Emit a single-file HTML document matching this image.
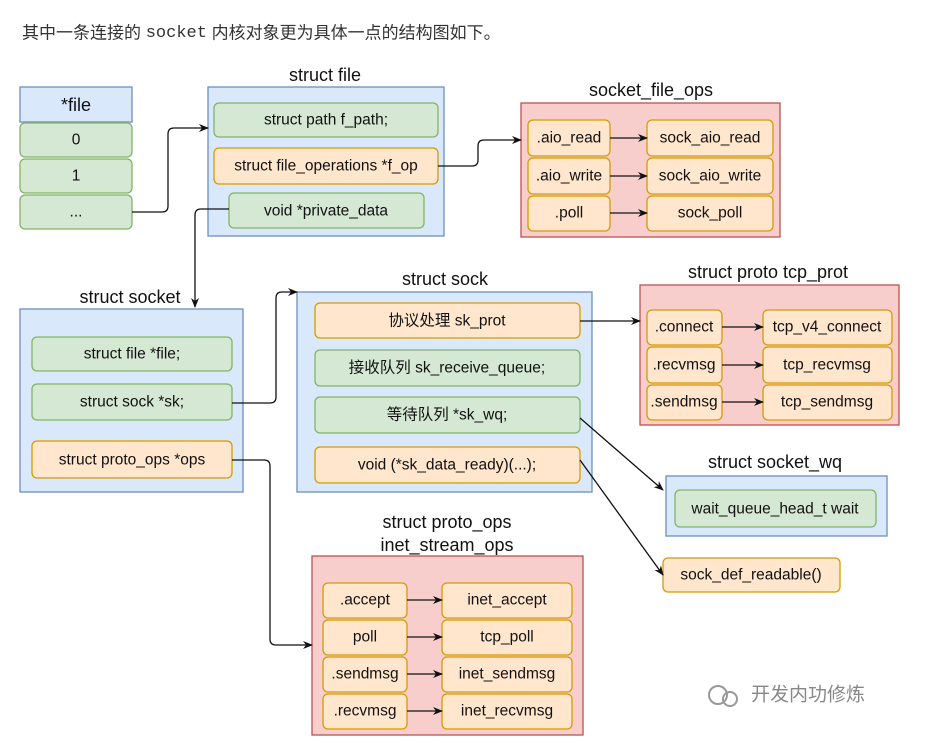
<!DOCTYPE html>
<html><head><meta charset="utf-8"><style>
body{margin:0;background:#fff;width:927px;height:746px;overflow:hidden}
svg text{font-family:"Liberation Sans","Noto Sans CJK SC",sans-serif;font-size:15.5px;fill:#111;text-anchor:middle;dominant-baseline:central}
.t{font-size:18px}
</style></head><body>
<svg width="927" height="746" xmlns="http://www.w3.org/2000/svg">
<defs><marker id="a" markerWidth="10" markerHeight="10" refX="9" refY="5" orient="auto" markerUnits="userSpaceOnUse"><path d="M0,1 L10,5 L0,9 L3,5z" fill="#111"/></marker></defs>
<text x="22" y="33" style="text-anchor:start;font-size:17px;fill:#333">其中一条连接的 <tspan font-family="Liberation Mono">socket</tspan> 内核对象更为具体一点的结构图如下。</text>
<g stroke-width="1.3">
<rect x="208" y="87" width="236" height="149" fill="#dae8fc" stroke="#6c8ebf"/>
<rect x="521" y="103" width="259" height="134" fill="#f8cecc" stroke="#b85450"/>
<rect x="20" y="309" width="223" height="183" fill="#dae8fc" stroke="#6c8ebf"/>
<rect x="297" y="292" width="295" height="200" fill="#dae8fc" stroke="#6c8ebf"/>
<rect x="640" y="285" width="259" height="140" fill="#f8cecc" stroke="#b85450"/>
<rect x="666" y="476" width="221" height="60" fill="#dae8fc" stroke="#6c8ebf"/>
<rect x="312" y="556" width="271" height="179" fill="#f8cecc" stroke="#b85450"/>
<rect x="20" y="87" width="112" height="35" fill="#dae8fc" stroke="#6c8ebf"/>
<rect x="20" y="123" width="112" height="34" rx="5" fill="#d5e8d4" stroke="#82b366"/>
<rect x="20" y="159" width="112" height="34" rx="5" fill="#d5e8d4" stroke="#82b366"/>
<rect x="20" y="195" width="112" height="34" rx="5" fill="#d5e8d4" stroke="#82b366"/>
<rect x="214" y="103" width="224" height="34" rx="5" fill="#d5e8d4" stroke="#82b366"/>
<rect x="214" y="148" width="224" height="36" rx="5" fill="#ffe6cc" stroke="#d79b00"/>
<rect x="229" y="193" width="195" height="35" rx="5" fill="#d5e8d4" stroke="#82b366"/>
<rect x="528" y="120" width="82" height="36" rx="5" fill="#ffe6cc" stroke="#d79b00"/>
<rect x="528" y="158" width="82" height="36" rx="5" fill="#ffe6cc" stroke="#d79b00"/>
<rect x="528" y="196" width="82" height="35" rx="5" fill="#ffe6cc" stroke="#d79b00"/>
<rect x="647" y="120" width="126" height="36" rx="5" fill="#ffe6cc" stroke="#d79b00"/>
<rect x="647" y="158" width="126" height="36" rx="5" fill="#ffe6cc" stroke="#d79b00"/>
<rect x="647" y="196" width="126" height="35" rx="5" fill="#ffe6cc" stroke="#d79b00"/>
<rect x="32" y="337" width="200" height="34" rx="5" fill="#d5e8d4" stroke="#82b366"/>
<rect x="32" y="384" width="200" height="36" rx="5" fill="#d5e8d4" stroke="#82b366"/>
<rect x="32" y="441" width="200" height="37" rx="5" fill="#ffe6cc" stroke="#d79b00"/>
<rect x="315" y="303" width="265" height="35" rx="5" fill="#ffe6cc" stroke="#d79b00"/>
<rect x="315" y="350" width="265" height="36" rx="5" fill="#d5e8d4" stroke="#82b366"/>
<rect x="315" y="397" width="265" height="36" rx="5" fill="#d5e8d4" stroke="#82b366"/>
<rect x="315" y="447" width="265" height="36" rx="5" fill="#ffe6cc" stroke="#d79b00"/>
<rect x="647" y="310" width="75" height="35" rx="5" fill="#ffe6cc" stroke="#d79b00"/>
<rect x="647" y="347" width="75" height="36" rx="5" fill="#ffe6cc" stroke="#d79b00"/>
<rect x="647" y="385" width="75" height="35" rx="5" fill="#ffe6cc" stroke="#d79b00"/>
<rect x="763" y="310" width="129" height="35" rx="5" fill="#ffe6cc" stroke="#d79b00"/>
<rect x="763" y="347" width="129" height="36" rx="5" fill="#ffe6cc" stroke="#d79b00"/>
<rect x="763" y="385" width="129" height="35" rx="5" fill="#ffe6cc" stroke="#d79b00"/>
<rect x="675" y="490" width="201" height="37" rx="5" fill="#d5e8d4" stroke="#82b366"/>
<rect x="663" y="558" width="177" height="34" rx="5" fill="#ffe6cc" stroke="#d79b00"/>
<rect x="323" y="583" width="84" height="35" rx="5" fill="#ffe6cc" stroke="#d79b00"/>
<rect x="323" y="620" width="84" height="35" rx="5" fill="#ffe6cc" stroke="#d79b00"/>
<rect x="323" y="657" width="84" height="35" rx="5" fill="#ffe6cc" stroke="#d79b00"/>
<rect x="323" y="694" width="84" height="35" rx="5" fill="#ffe6cc" stroke="#d79b00"/>
<rect x="442" y="583" width="130" height="35" rx="5" fill="#ffe6cc" stroke="#d79b00"/>
<rect x="442" y="620" width="130" height="35" rx="5" fill="#ffe6cc" stroke="#d79b00"/>
<rect x="442" y="657" width="130" height="35" rx="5" fill="#ffe6cc" stroke="#d79b00"/>
<rect x="442" y="694" width="130" height="35" rx="5" fill="#ffe6cc" stroke="#d79b00"/>
</g>
<g fill="none" stroke="#111" stroke-width="1.3" marker-end="url(#a)">
<path d="M132,212 H162 Q168,212 168,206 V134 Q168,128 174,128 H208"/>
<path d="M438,166 H472 Q478,166 478,160 V146 Q478,140 484,140 H521"/>
<path d="M229,209 H201 Q195,209 195,215 V307"/>
<path d="M232,403 H270 Q276,403 276,397 V298 Q276,292 282,292 H297"/>
<path d="M232,460 H264 Q270,460 270,466 V639 Q270,645 276,645 H312"/>
<path d="M580,321 H640"/>
<path d="M580,418 L663,490"/>
<path d="M580,460 L663,575"/>
<path d="M610,138 H647"/><path d="M610,176 H647"/><path d="M610,213 H647"/>
<path d="M722,327 H763"/><path d="M722,365 H763"/><path d="M722,402 H763"/>
<path d="M407,600 H442"/><path d="M407,637 H442"/><path d="M407,674 H442"/><path d="M407,711 H442"/>
</g>
<text class="t" x="325" y="75">struct file</text>
<text class="t" x="651" y="90">socket_file_ops</text>
<text class="t" x="130" y="297">struct socket</text>
<text class="t" x="445" y="279">struct sock</text>
<text class="t" x="768" y="272">struct proto tcp_prot</text>
<text class="t" x="775" y="462">struct socket_wq</text>
<text class="t" x="447" y="522">struct proto_ops</text>
<text class="t" x="447" y="545">inet_stream_ops</text>
<text class="t" x="76" y="105">*file</text>
<text x="76" y="140">0</text><text x="76" y="176">1</text><text x="76" y="212">...</text>
<text x="326" y="120">struct path f_path;</text>
<text x="326" y="166">struct file_operations *f_op</text>
<text x="326" y="211">void *private_data</text>
<text x="569" y="138">.aio_read</text><text x="569" y="176">.aio_write</text><text x="569" y="213">.poll</text>
<text x="710" y="138">sock_aio_read</text><text x="710" y="176">sock_aio_write</text><text x="710" y="213">sock_poll</text>
<text x="132" y="354">struct file *file;</text>
<text x="132" y="402">struct sock *sk;</text>
<text x="132" y="460">struct proto_ops *ops</text>
<text x="447" y="321">协议处理 sk_prot</text>
<text x="447" y="368">接收队列 sk_receive_queue;</text>
<text x="447" y="415">等待队列 *sk_wq;</text>
<text x="447" y="465">void  (*sk_data_ready)(...);</text>
<text x="684" y="327">.connect</text><text x="684" y="365">.recvmsg</text><text x="684" y="402">.sendmsg</text>
<text x="827" y="327">tcp_v4_connect</text><text x="827" y="365">tcp_recvmsg</text><text x="827" y="402">tcp_sendmsg</text>
<text x="775" y="509">wait_queue_head_t wait</text>
<text x="751" y="575">sock_def_readable()</text>
<text x="365" y="600">.accept</text><text x="365" y="637">poll</text><text x="365" y="674">.sendmsg</text><text x="365" y="711">.recvmsg</text>
<text x="507" y="600">inet_accept</text><text x="507" y="637">tcp_poll</text><text x="507" y="674">inet_sendmsg</text><text x="507" y="711">inet_recvmsg</text>
<circle cx="718" cy="695" r="9" fill="none" stroke="#999" stroke-width="2"/>
<circle cx="730" cy="699" r="7" fill="none" stroke="#999" stroke-width="2"/>
<text x="808" y="695" style="font-size:19px;fill:#888">开发内功修炼</text>
</svg>
</body></html>
